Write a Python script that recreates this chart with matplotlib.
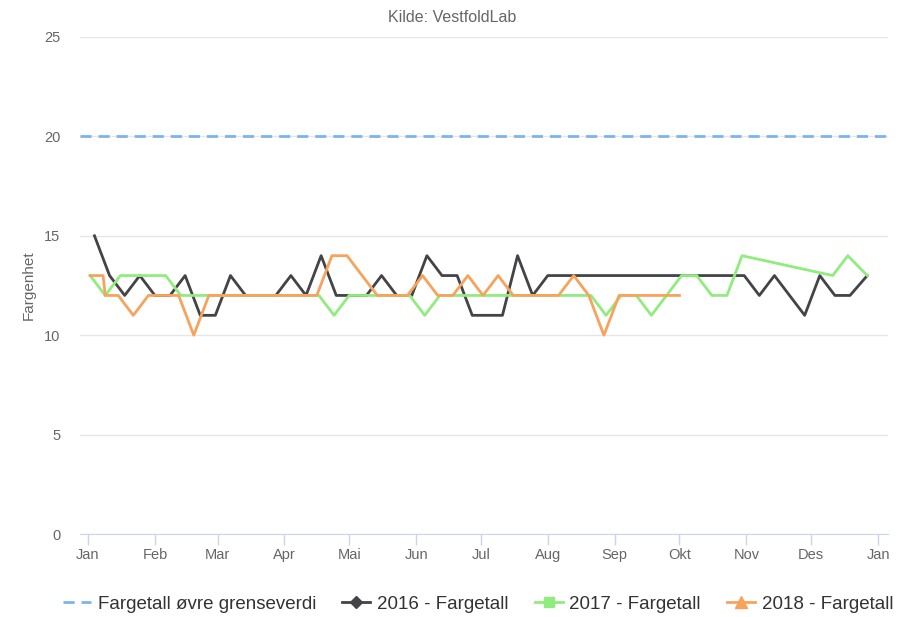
import numpy as np
import pandas as pd
import matplotlib
matplotlib.use("Agg")
import matplotlib.pyplot as plt
import matplotlib.dates as mdates
from matplotlib.lines import Line2D

plt.rcParams['font.family'] = ['Liberation Sans', 'DejaVu Sans']

# all years are drawn on a 2016 calendar (month-day)
limit = 20

dates_2016 = ["01-04", "01-11", "01-18", "01-25", "02-01", "02-08", "02-15", "02-22", "02-29",
              "03-07", "03-14", "03-21", "03-28", "04-04", "04-11", "04-18", "04-25",
              "05-02", "05-09", "05-16", "05-23", "05-30", "06-06", "06-13", "06-20", "06-27",
              "07-04", "07-11", "07-18", "07-25", "08-01", "08-08", "08-15", "08-22", "08-29",
              "09-05", "09-12", "09-19", "09-26", "10-03", "10-10", "10-17", "10-24", "10-31",
              "11-07", "11-14", "11-21", "11-28", "12-05", "12-12", "12-19", "12-27"]
values_2016 = [15, 13, 12, 13, 12, 12, 13, 11, 11,
               13, 12, 12, 12, 13, 12, 14, 12,
               12, 12, 13, 12, 12, 14, 13, 13, 11,
               11, 11, 14, 12, 13, 13, 13, 13, 13,
               13, 13, 13, 13, 13, 13, 13, 13, 13,
               12, 13, 12, 11, 13, 12, 12, 13]

dates_2017 = ["01-02", "01-09", "01-16", "01-23", "01-30", "02-06", "02-13", "02-20", "02-27",
              "03-06", "03-13", "03-20", "03-27", "04-03", "04-10", "04-17", "04-24",
              "05-01", "05-08", "05-15", "05-22", "05-29", "06-05", "06-12", "06-19", "06-26",
              "07-03", "07-10", "07-17", "07-24", "07-31", "08-07", "08-14", "08-21", "08-28",
              "09-04", "09-11", "09-18", "09-25", "10-02", "10-09", "10-16", "10-23", "10-30",
              "12-11", "12-18", "12-27"]
values_2017 = [13, 12, 13, 13, 13, 13, 12, 12, 12,
               12, 12, 12, 12, 12, 12, 12, 11,
               12, 12, 12, 12, 12, 11, 12, 12, 12,
               12, 12, 12, 12, 12, 12, 12, 12, 11,
               12, 12, 11, 12, 13, 13, 12, 12, 14,
               13, 14, 13]

dates_2018 = ["01-02", "01-08", "01-09", "01-15", "01-22", "01-29", "02-05", "02-12", "02-19", "02-26",
              "03-05", "03-12", "03-19", "03-26", "04-02", "04-09", "04-16", "04-23", "04-30",
              "05-07", "05-14", "05-21", "05-28", "06-04", "06-11", "06-18", "06-25",
              "07-02", "07-09", "07-16", "07-23", "07-30", "08-06", "08-13", "08-20", "08-27",
              "09-03", "09-10", "09-17", "09-24", "10-01"]
values_2018 = [13, 13, 12, 12, 11, 12, 12, 12, 10, 12,
               12, 12, 12, 12, 12, 12, 12, 14, 14,
               13, 12, 12, 12, 13, 12, 12, 13,
               12, 13, 12, 12, 12, 12, 13, 12, 10,
               12, 12, 12, 12, 12]

month_labels = ["Jan", "Feb", "Mar", "Apr", "Mai", "Jun", "Jul", "Aug", "Sep", "Okt", "Nov", "Des", "Jan"]

labels = ["Fargetall øvre grenseverdi", "2016 - Fargetall", "2017 - Fargetall", "2018 - Fargetall"]
colors = ["#7cb5ec", "#434348", "#90ed7d", "#f7a35c"]


def to_dates(md):
    return pd.to_datetime(["2016-" + d for d in md])


fig = plt.figure(figsize=(9.04, 6.17), dpi=100)
ax = fig.add_axes([80 / 904, 1 - 534 / 617, 808 / 904, 497 / 617])

ax.axhline(limit, color=colors[0], lw=2, ls=(0, (4, 2.5)), zorder=3)
ax.plot(to_dates(dates_2016), values_2016, color=colors[1], lw=2, zorder=4)
ax.plot(to_dates(dates_2017), values_2017, color=colors[2], lw=2, zorder=5)
ax.plot(to_dates(dates_2018), values_2018, color=colors[3], lw=2, zorder=6)

start = pd.Timestamp("2016-01-01")
ax.set_xlim(mdates.date2num(start) - 3.7, mdates.date2num(start) + 370.6)
ax.set_ylim(0, 25)

ticks = list(pd.date_range("2016-01-01", periods=13, freq="MS"))
ax.set_xticks(ticks)
ax.set_xticklabels(month_labels)
ax.set_yticks([0, 5, 10, 15, 20, 25])

ax.grid(axis="y", color="#e6e6e6", lw=1)
ax.set_axisbelow(True)
for s in ["top", "right", "left"]:
    ax.spines[s].set_visible(False)
ax.spines["bottom"].set_color("#ccd6eb")
ax.tick_params(axis="x", colors="#ccd6eb", length=8, width=1, labelcolor="#666666",
               labelsize=10.5, pad=2)
ax.tick_params(axis="y", length=0, labelcolor="#666666", labelsize=10.5, pad=14)

ax.set_ylabel("Fargenhet", color="#666666", fontsize=11, labelpad=6)
fig.text(0.5, 1 - 18 / 617, "Kilde: VestfoldLab", ha="center", va="center",
         color="#666666", fontsize=11.5)

handles = [
    Line2D([], [], color=colors[0], lw=2, ls=(0, (4, 2.5))),
    Line2D([], [], color=colors[1], lw=2, marker="D", markersize=6),
    Line2D([], [], color=colors[2], lw=2, marker="s", markersize=7),
    Line2D([], [], color=colors[3], lw=2, marker="^", markersize=8),
]
leg = fig.legend(handles, labels, loc="center left", bbox_to_anchor=(63 / 904, 1 - 604 / 617),
                 ncol=4, frameon=False, fontsize=13.5, handlelength=1.5,
                 handletextpad=0.35, columnspacing=1.4, borderaxespad=0, borderpad=0)
for t in leg.get_texts():
    t.set_color("#333333")

fig.savefig("out.png", dpi=100)
